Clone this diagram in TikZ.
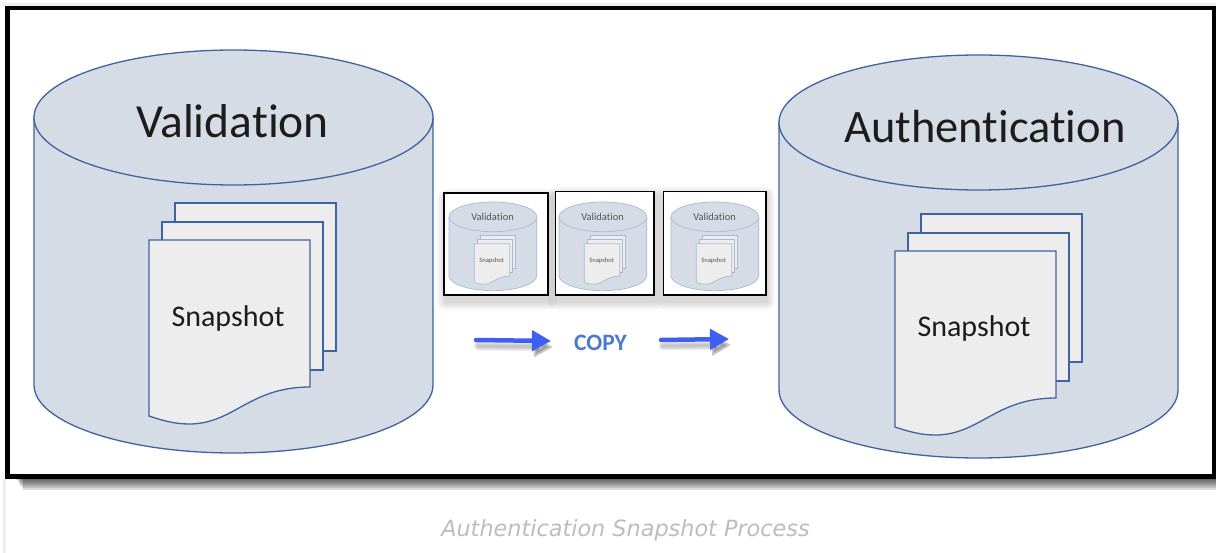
\documentclass[tikz,border=0pt]{standalone}
\usepackage{fontspec}
\setmainfont{Carlito}[Ligatures=NoCommon]
\newfontfamily\capfont{DejaVu Sans}
\usetikzlibrary{arrows.meta}
\definecolor{dbfill}{HTML}{D6DCE5}
\definecolor{sheetfill}{HTML}{EDEDED}
\definecolor{dbedge}{HTML}{3F62A0}
\definecolor{thumbedge}{HTML}{A9B9D4}
\definecolor{inktext}{HTML}{1C1C1C}
\definecolor{thumbtext}{HTML}{555555}
\definecolor{arrowblue}{HTML}{3F5FF2}
\definecolor{copyblue}{HTML}{4A78D2}
\definecolor{capgray}{HTML}{BDBDBD}
\definecolor{edgestrip}{HTML}{EEEEEE}
\tikzset{
  dbshape/.style={draw=dbcur,fill=dbfill,line width=\dblw pt,line join=round},
  sheetshape/.style={draw=dbcur,fill=sheetfill,line width=\dblw pt,line join=miter},
  thumbbox/.style={draw=black,line width=1.6pt,fill=white},
  flowarrow/.style={draw=arrowblue,line width=4.5pt,line cap=round,-{Triangle[length=19pt,width=20pt]}},
  flowshadow/.style={draw=black,opacity=0.06,line cap=round,-{Triangle[length=19pt,width=20pt]}},
}
\newcommand{\softshade}[5]{% x1 y1 x2 y2 spread
  \foreach \k in {1,...,5}{
    \pgfmathsetmacro{\gr}{#5*\k/5}
    \fill[black,opacity=0.03,rounded corners=\gr pt] (#1-\gr,#2-\gr) rectangle (#3+\gr,#4+\gr);
  }
}
\newcommand{\titlebase}{47.5}
\newcommand{\snaprow}{79}
% prefix, origin x, origin y, scale, doc x, doc y, title, title x, title y
\newcommand{\dbunit}[9]{%
\pgfmathsetmacro{\titlesz}{\titlebase*#4}
\pgfmathsetmacro{\snapsz}{30*#4}
\pgfmathsetmacro{\dblw}{max(0.7,1.3*#4)}
\begin{scope}[shift={(#2,#3)},x=#4pt,y=-#4pt]
  \path[dbshape] (0,67) -- (0,335) .. controls (0,372.3) and (89.3,403) .. (199.5,403)
     .. controls (309.7,403) and (399,372.3) .. (399,335) -- (399,67) -- cycle;
  \path[dbshape] (0,67.5) .. controls (0,30.2) and (89.3,0) .. (199.5,0)
     .. controls (309.7,0) and (399,30.2) .. (399,67.5)
     .. controls (399,104.8) and (309.7,135) .. (199.5,135)
     .. controls (89.3,135) and (0,104.8) .. (0,67.5) -- cycle;
  \node[text=dbtxt,font=\fontsize{\titlesz pt}{\titlesz pt}\selectfont,inner sep=0pt] (#1title) at (#8,#9) {#7};
  \begin{scope}[shift={(#5,#6)}]
    \path[sheetshape] (26,-37) rectangle (187,111);
    \path[sheetshape] (13,-18) rectangle (174,130);
    \path[sheetshape] (0,0) -- (161,0) -- (161,147) .. controls (100,147) and (85,184) .. (40,184)
       .. controls (25,184) and (12,180) .. (0,176) -- cycle;
    \node[text=dbtxt,font=\fontsize{\snapsz pt}{\snapsz pt}\selectfont,inner sep=0pt] (#1snap) at (79,\snaprow) {Snapshot};
  \end{scope}
\end{scope}}
\begin{document}
\begin{tikzpicture}[x=1pt,y=-1pt]
\useasboundingbox (0,0) rectangle (1216,553);
\fill[white] (0,0) rectangle (1216,553);
% page edges
\fill[edgestrip] (3,3) rectangle (1216,6);
\fill[edgestrip] (3,479) rectangle (5.5,553);
% frame shadow
\foreach \k in {1,...,6}{
  \pgfmathsetmacro{\yy}{478+2*\k}
  \pgfmathsetmacro{\xx}{15+1.3*\k}
  \fill[black,opacity=0.14] (\xx,476) rectangle (1216,\yy);
}
\node[draw=black,line width=4.4pt,fill=white,minimum width=1206.5pt,minimum height=468.5pt,inner sep=0pt,outer sep=0pt,anchor=north west] (frame) at (7.5,8) {};
% big cylinders
\colorlet{dbcur}{dbedge}
\colorlet{dbtxt}{inktext}
\dbunit{val}{34}{50}{1}{115}{190}{Validation}{198.5}{71}
\renewcommand{\titlebase}{46.5}
\renewcommand{\snaprow}{78}
\dbunit{auth}{779}{55}{1}{116}{196}{Authentication}{206}{72}
% thumbnails
\softshade{446}{198}{548}{301}{9}
\softshade{557}{196}{654}{301}{9}
\softshade{665}{196}{766}{301}{9}
\path[thumbbox] (444,193) rectangle (548,295);
\path[thumbbox] (555.5,191.5) rectangle (654,295);
\path[thumbbox] (663.5,191.5) rectangle (766,295);
\colorlet{dbcur}{thumbedge}
\colorlet{dbtxt}{thumbtext}
\renewcommand{\titlebase}{47.5}
\dbunit{ta}{449}{202}{0.22}{115}{190}{Validation}{198}{70}
\dbunit{tb}{559}{202}{0.22}{115}{190}{Validation}{198}{70}
\dbunit{tc}{671}{202}{0.22}{115}{190}{Validation}{198}{70}
% arrows
\coordinate (a1s) at (476,340);
\coordinate (a1e) at (551,341);
\coordinate (a2s) at (661,340);
\coordinate (a2e) at (729,339);
\coordinate (a1ss) at (478,346);
\coordinate (a1se) at (553,347);
\coordinate (a2ss) at (663,346);
\coordinate (a2se) at (731,345);
\foreach \w in {3,5,7,9}{
  \draw[flowshadow,line width=\w pt] (a1ss) -- (a1se);
  \draw[flowshadow,line width=\w pt] (a2ss) -- (a2se);
}
\draw[flowarrow] (a1s) -- (a1e);
\draw[flowarrow] (a2s) -- (a2e);
\node[text=copyblue,font=\bfseries\fontsize{23.5}{23.5}\selectfont,inner sep=0pt] (copy) at (600.5,343) {COPY};
\node[text=capgray,font=\capfont\itshape\fontsize{22.35}{22.35}\selectfont,inner sep=0pt] (caption) at (625.5,530) {Authentication Snapshot Process};
\end{tikzpicture}
\end{document}
